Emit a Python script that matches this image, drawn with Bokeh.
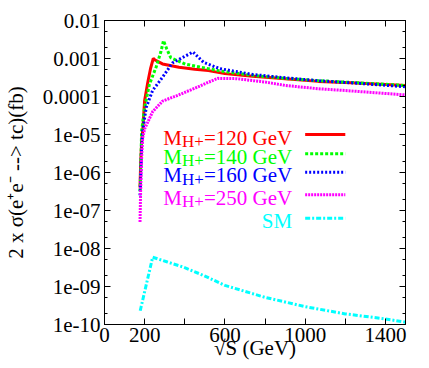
from bokeh.plotting import figure
from bokeh.models import Range1d, FixedTicker, LinearAxis, LogAxis, Label
from bokeh.embed import file_html
from bokeh.resources import INLINE

FONT = "Liberation Serif"

# ---------------- data ----------------
s_120 = [177, 180, 185, 191, 200, 216, 230, 243, 250, 289, 371, 450, 518, 600, 739, 900, 1066, 1229, 1500]
v_120 = [4.0e-7, 1.6e-6, 6.3e-6, 1.4e-5, 7.9e-5, 2.4e-4, 5.6e-4, 1.0e-3, 9.3e-4, 7.2e-4, 5.9e-4,
         5.2e-4, 4.8e-4, 4.0e-4, 3.4e-4, 2.95e-4, 2.5e-4, 2.3e-4, 1.95e-4]

s_140 = [177, 180, 185, 200, 224, 257, 281, 294, 310, 330, 404, 502, 575, 739, 900, 1066, 1229, 1500]
v_140 = [3.2e-7, 1.0e-6, 1.26e-5, 5.2e-5, 2.1e-4, 5.9e-4, 1.5e-3, 2.95e-3, 1.8e-3, 1.05e-3,
         7.1e-4, 5.6e-4, 4.7e-4, 3.6e-4, 3.0e-4, 2.6e-4, 2.35e-4, 1.95e-4]

s_160 = [177, 180, 185, 191, 208, 240, 289, 338, 404, 441, 470, 494, 575, 739, 902, 1066, 1229, 1500]
v_160 = [2.5e-7, 6.3e-7, 5.0e-6, 1.3e-5, 5.2e-5, 1.45e-4, 3.2e-4, 7.6e-4, 1.17e-3, 1.48e-3,
         1.05e-3, 7.9e-4, 5.4e-4, 3.8e-4, 3.1e-4, 2.6e-4, 2.3e-4, 1.8e-4]

s_250 = [177, 180, 185, 190, 200, 240, 290, 370, 450, 520, 565, 657, 800, 902, 1066, 1229, 1500]
v_250 = [5.0e-8, 3.2e-7, 2.5e-6, 7.9e-6, 1.4e-5, 4.0e-5, 7.6e-5, 1.1e-4, 1.65e-4, 2.4e-4,
         3.0e-4, 2.95e-4, 2.4e-4, 1.95e-4, 1.6e-4, 1.4e-4, 1.1e-4]

s_sm = [178, 240, 314, 396, 494, 600, 799, 1000, 1200, 1399, 1500]
v_sm = [2.3e-10, 5.9e-9, 4.4e-9, 3.2e-9, 1.95e-9, 1.07e-9, 5.2e-10, 2.95e-10, 1.9e-10, 1.4e-10, 1.15e-10]

series_names = ["=120 GeV", "=140 GeV", "=160 GeV", "=250 GeV", "SM"]
series_colors = ["#ff0000", "#00ff00", "#0000ff", "#ff00ff", "#00ffff"]
series_dash = ["solid", "3 2", "2 2", "2 1", "5 2 2 2"]
series_x = [s_120, s_140, s_160, s_250, s_sm]
series_y = [v_120, v_140, v_160, v_250, v_sm]
has_subscript = [True, True, True, True, False]

x_ticks = [0, 200, 400, 600, 800, 1000, 1200, 1400]
x_tick_labels = ["0", "200", "", "600", "", "1000", "", "1400"]
y_exponents = [-10, -9, -8, -7, -6, -5, -4, -3, -2]
y_tick_labels = ["1e-10", "1e-09", "1e-08", "1e-07", "1e-06", "1e-05", "0.0001", "0.001", "0.01"]

X_TITLE = "√S (GeV)"
Y_TITLE = "2 x σ(e⁺e⁻ --> tc)(fb)"

# legend layout (data coordinates of the key block)
LEG_TEXT_X = 935
LEG_LINE_X0 = 1000
LEG_LINE_X1 = 1200
LEG_ROWS_Y = [1.0e-5, 3.1e-6, 1.02e-6, 2.6e-7, 6.3e-8]

FS = 21
SUB_FS = 17
TIMES_W = {'=': 564, '0': 500, '1': 500, '2': 500, '3': 500, '4': 500, '5': 500, '6': 500,
           '7': 500, '8': 500, '9': 500, ' ': 250, 'G': 722, 'e': 444, 'V': 722, 'M': 889,
           'H': 722, '+': 564, 'S': 556}


def tw(t, fs):
    return sum(TIMES_W.get(c, 500) for c in t) * fs / 1000.0


yt = [10.0 ** e for e in y_exponents]
y_minor = []
for e in y_exponents[:-1]:
    for m in (2, 5):
        y_minor.append(m * 10.0 ** e)

p = figure(width=429, height=368, x_range=Range1d(0, 1500), y_range=Range1d(1e-10, 1e-2),
           y_axis_type="log", output_backend="svg", toolbar_location=None,
           min_border_left=99, min_border_right=24, min_border_top=20, min_border_bottom=44)
p.grid.visible = False
p.outline_line_color = "black"
p.outline_line_width = 1
p.background_fill_color = "white"
p.border_fill_color = "white"

xt = FixedTicker(ticks=x_ticks, minor_ticks=[])
yticker = FixedTicker(ticks=yt, minor_ticks=y_minor)

bottom_ax = p.below[0]
left_ax = p.left[0]

bottom_ax.ticker = xt
bottom_ax.major_label_overrides = {float(t): l for t, l in zip(x_ticks, x_tick_labels)}
bottom_ax.major_label_standoff = 3
bottom_ax.axis_label = X_TITLE
bottom_ax.axis_label_standoff = -9

left_ax.ticker = yticker
left_ax.major_label_overrides = {t: l for t, l in zip(yt, y_tick_labels)}
left_ax.axis_label = Y_TITLE
left_ax.axis_label_standoff = 12
left_ax.major_label_standoff = 4

top_ax = LinearAxis(ticker=xt, major_label_text_font_size="1px", major_label_text_alpha=0,
                    major_label_standoff=0,
                    major_label_overrides={float(t): " " for t in x_ticks})
right_ax = LogAxis(ticker=yticker, major_label_text_font_size="1px", major_label_text_alpha=0,
                   major_label_standoff=0,
                   major_label_overrides={t: " " for t in yt})
p.add_layout(top_ax, "above")
p.add_layout(right_ax, "right")

for ax in [bottom_ax, left_ax, top_ax, right_ax]:
    ax.major_tick_in = 6
    ax.major_tick_out = 0
    ax.minor_tick_in = 3
    ax.minor_tick_out = 0
    ax.axis_line_color = "black"
    ax.major_tick_line_color = "black"
    ax.minor_tick_line_color = "black"
    ax.major_label_text_font = FONT
    ax.axis_label_text_font = FONT
    ax.axis_label_text_font_style = "normal"
for ax in [bottom_ax, left_ax]:
    ax.major_label_text_font_size = "21px"
    ax.axis_label_text_font_size = "21px"
    ax.major_label_text_color = "black"
    ax.axis_label_text_color = "black"

for xs, ys, c, d in zip(series_x, series_y, series_colors, series_dash):
    p.line(xs, ys, line_color=c, line_width=3, line_dash=d)

for i, name in enumerate(series_names):
    c = series_colors[i]
    yrow = LEG_ROWS_Y[i]
    p.line([LEG_LINE_X0, LEG_LINE_X1], [yrow, yrow], line_color=c, line_width=3, line_dash=series_dash[i])
    p.add_layout(Label(x=LEG_TEXT_X, y=yrow, text=name, text_align="right", text_baseline="alphabetic",
                       y_offset=-3, text_color=c, text_font=FONT, text_font_size=f"{FS}px"))
    if has_subscript[i]:
        w_rest = tw(name, FS)
        w_sub = tw("H+", SUB_FS)
        p.add_layout(Label(x=LEG_TEXT_X, y=yrow, text="H+", text_align="right", text_baseline="alphabetic",
                           x_offset=-round(w_rest, 1), y_offset=-7, text_color=c, text_font=FONT,
                           text_font_size=f"{SUB_FS}px"))
        p.add_layout(Label(x=LEG_TEXT_X, y=yrow, text="M", text_align="right", text_baseline="alphabetic",
                           x_offset=-round(w_rest + w_sub, 1), y_offset=-3, text_color=c, text_font=FONT,
                           text_font_size=f"{FS}px"))

open("out.html", "w").write(file_html(p, INLINE))
